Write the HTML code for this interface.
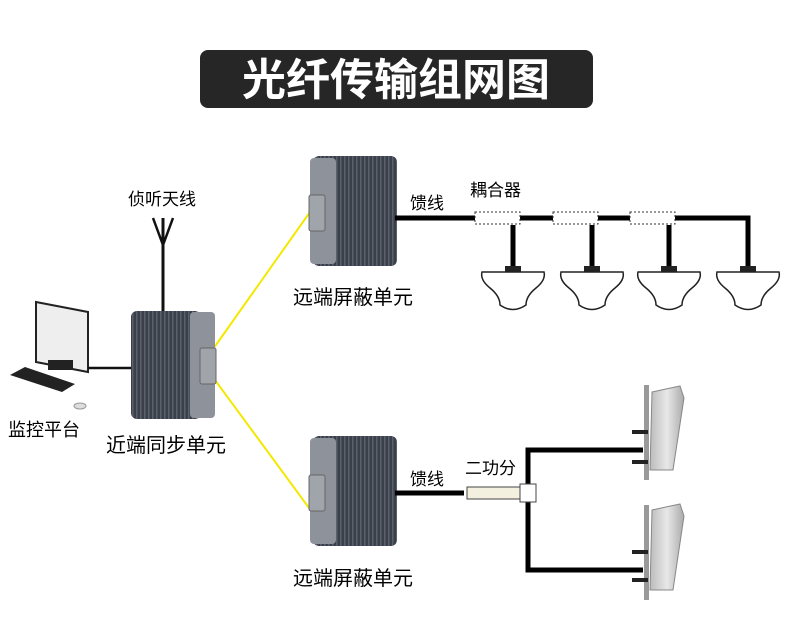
<!DOCTYPE html>
<html><head><meta charset="utf-8"><style>
body{margin:0;background:#fff}
svg text{font-family:"Liberation Sans","Noto Sans CJK SC",sans-serif}
</style></head><body>
<svg width="790" height="628" viewBox="0 0 790 628" xmlns="http://www.w3.org/2000/svg">
<defs>
<pattern id="fins" width="4" height="10" patternUnits="userSpaceOnUse"><rect width="4" height="10" fill="#3a3f4a"/><rect width="1.5" height="10" fill="#5a606c"/></pattern>
<linearGradient id="pan" x1="0" x2="1"><stop offset="0" stop-color="#bbb"/><stop offset="0.5" stop-color="#e8e8e8"/><stop offset="1" stop-color="#aaa"/></linearGradient>
</defs>
<rect x="200" y="50" width="393" height="58" rx="8" fill="#262626"/>
<text x="396" y="95" text-anchor="middle" font-size="44" font-weight="bold" fill="#fff">光纤传输组网图</text>

<line x1="211" y1="352" x2="310" y2="212" stroke="#f5e800" stroke-width="2"/>
<line x1="212" y1="376" x2="312" y2="512" stroke="#f5e800" stroke-width="2"/>

<line x1="163" y1="218" x2="163" y2="313" stroke="#111" stroke-width="3"/>
<path d="M153 218 L163 245 L173 218" stroke="#111" stroke-width="2.5" fill="none"/>
<text x="128" y="205" font-size="17">侦听天线</text>

<path d="M36 302 L88 312 L88 372 L36 362 Z" fill="#eee" stroke="#222" stroke-width="2"/>
<rect x="48" y="360" width="25" height="10" fill="#222"/>
<path d="M10 375 L62 392 L75 384 L25 367 Z" fill="#222"/>
<ellipse cx="80" cy="406" rx="6" ry="3" fill="#ddd" stroke="#999"/>
<line x1="88" y1="368" x2="131" y2="368" stroke="#111" stroke-width="2.5"/>
<text x="8" y="436" font-size="18">监控平台</text>

<rect x="131" y="311" width="70" height="108" rx="6" fill="url(#fins)"/>
<rect x="190" y="312" width="25" height="106" rx="4" fill="#8e929a"/>
<rect x="200" y="348" width="16" height="36" rx="2" fill="#a0a4ab" stroke="#666"/>
<text x="106" y="452" font-size="20">近端同步单元</text>

<g>
<rect x="313" y="156" width="84" height="110" rx="6" fill="url(#fins)"/>
<rect x="310" y="158" width="26" height="106" rx="4" fill="#8e929a"/>
<rect x="309" y="195" width="16" height="36" rx="2" fill="#a0a4ab" stroke="#666"/>
</g>
<text x="293" y="304" font-size="20">远端屏蔽单元</text>
<g>
<rect x="313" y="436" width="84" height="110" rx="6" fill="url(#fins)"/>
<rect x="310" y="438" width="26" height="106" rx="4" fill="#8e929a"/>
<rect x="309" y="475" width="16" height="36" rx="2" fill="#a0a4ab" stroke="#666"/>
</g>
<text x="293" y="585" font-size="20">远端屏蔽单元</text>

<text x="410" y="209" font-size="17">馈线</text>
<text x="470" y="196" font-size="17">耦合器</text>
<path d="M395 218 H748 V268" stroke="#000" stroke-width="5" fill="none"/>
<g fill="#fff" stroke="#333" stroke-width="1" stroke-dasharray="2,2">
<rect x="475" y="212" width="45" height="12"/><rect x="553" y="212" width="45" height="12"/><rect x="630" y="212" width="45" height="12"/>
</g>
<g stroke="#000" stroke-width="5"><line x1="513" y1="225" x2="513" y2="268"/><line x1="592" y1="225" x2="592" y2="268"/><line x1="669" y1="225" x2="669" y2="268"/></g>
<g fill="#fff" stroke="#222" stroke-width="1.5">
<path d="M482 272 H544 Q546 280 536 288 Q526 296 526 305 Q513 314 500 305 Q500 296 490 288 Q480 280 482 272 Z"/>
<path d="M561 272 H623 Q625 280 615 288 Q605 296 605 305 Q592 314 579 305 Q579 296 569 288 Q559 280 561 272 Z"/>
<path d="M638 272 H700 Q702 280 692 288 Q682 296 682 305 Q669 314 656 305 Q656 296 646 288 Q636 280 638 272 Z"/>
<path d="M717 272 H779 Q781 280 771 288 Q761 296 761 305 Q748 314 735 305 Q735 296 725 288 Q715 280 717 272 Z"/>
</g>
<g fill="#222"><rect x="505" y="266" width="16" height="6"/><rect x="584" y="266" width="16" height="6"/><rect x="661" y="266" width="16" height="6"/><rect x="740" y="266" width="16" height="6"/></g>

<text x="410" y="485" font-size="17">馈线</text>
<text x="465" y="474" font-size="17">二功分</text>
<line x1="395" y1="493" x2="464" y2="493" stroke="#000" stroke-width="5"/>
<path d="M643 450 H528 V570 H643" stroke="#000" stroke-width="5" fill="none"/>
<rect x="467" y="487" width="54" height="12" fill="#f4f0e0" stroke="#444"/>
<rect x="520" y="484" width="16" height="18" fill="#fff" stroke="#444"/>
<g>
<rect x="644" y="385" width="5" height="95" fill="#999"/>
<path d="M652 392 L680 386 L684 398 L673 470 L650 470 Z" fill="url(#pan)" stroke="#888"/>
<rect x="632" y="430" width="16" height="4" fill="#222"/><rect x="632" y="460" width="16" height="4" fill="#222"/>
</g>
<g>
<rect x="644" y="505" width="5" height="95" fill="#999"/>
<path d="M652 510 L680 504 L684 516 L673 590 L650 590 Z" fill="url(#pan)" stroke="#888"/>
<rect x="632" y="550" width="16" height="4" fill="#222"/><rect x="632" y="578" width="16" height="4" fill="#222"/>
</g>
</svg>
</body></html>
